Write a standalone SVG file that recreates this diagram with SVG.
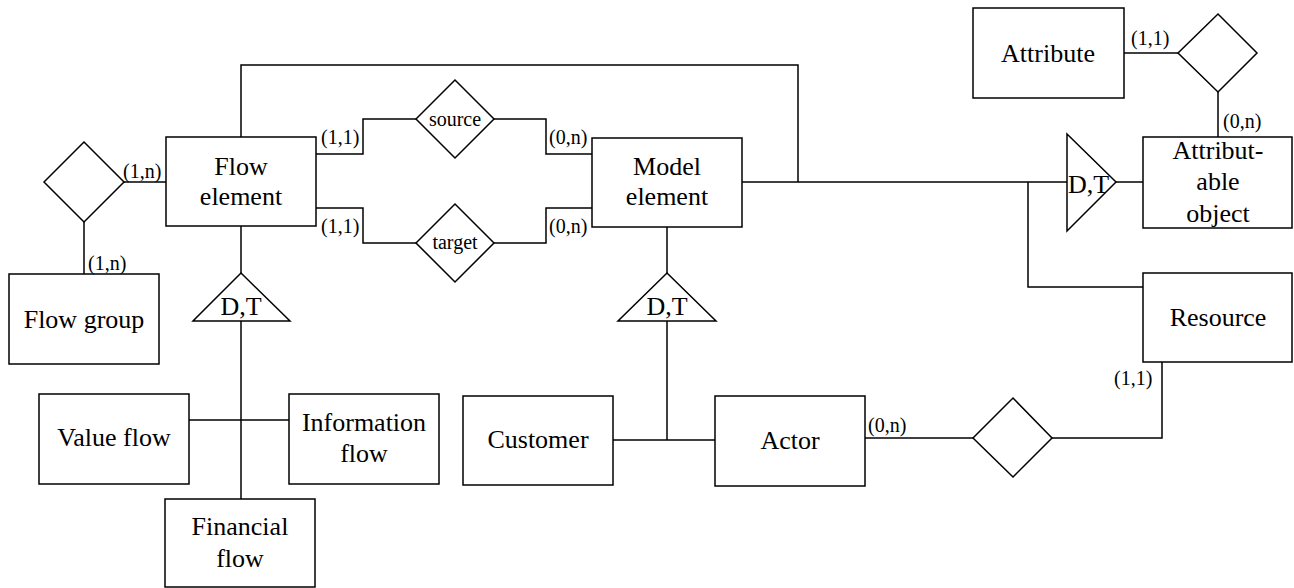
<svg xmlns="http://www.w3.org/2000/svg" width="1294" height="588" viewBox="0 0 1294 588">
<style>
.b{fill:#fff;stroke:#000;stroke-width:1.5}
.c{fill:none;stroke:#000;stroke-width:1.5}
.t{font-family:"Liberation Serif","Times New Roman",serif;font-size:26px;fill:#000;text-anchor:middle}
.l{font-family:"Liberation Serif","Times New Roman",serif;font-size:20px;fill:#000}
.s{font-family:"Liberation Serif","Times New Roman",serif;font-size:20px;fill:#000;text-anchor:middle}
</style>
<rect width="1294" height="588" fill="#fff"/>
<g id="connectors">
<polyline class="c" points="241,137 241,65 798,65 798,182"/>
<line class="c" x1="742" y1="182" x2="1067" y2="182"/>
<polyline class="c" points="1028,182 1028,287 1143,287"/>
<line class="c" x1="1116" y1="182" x2="1143" y2="182"/>
<line class="c" x1="1124" y1="53" x2="1178" y2="53"/>
<line class="c" x1="1218" y1="92" x2="1218" y2="137"/>
<line class="c" x1="124" y1="182" x2="166" y2="182"/>
<line class="c" x1="84" y1="222" x2="84" y2="274"/>
<polyline class="c" points="316,154 363,154 363,119 416,119"/>
<polyline class="c" points="494,119 546,119 546,154 592,154"/>
<polyline class="c" points="316,208 363,208 363,243 416,243"/>
<polyline class="c" points="494,243 546,243 546,208 592,208"/>
<line class="c" x1="241" y1="226" x2="241" y2="273"/>
<line class="c" x1="241" y1="321" x2="241" y2="499"/>
<line class="c" x1="189" y1="420" x2="289" y2="420"/>
<line class="c" x1="667" y1="227" x2="667" y2="273"/>
<line class="c" x1="667" y1="321" x2="667" y2="440"/>
<line class="c" x1="613" y1="440" x2="715" y2="440"/>
<line class="c" x1="865" y1="438" x2="973" y2="438"/>
<polyline class="c" points="1052,438 1162,438 1162,362"/>
</g>
<g id="flow-element">
<rect class="b" x="166" y="137" width="150" height="89"/>
<text class="t" x="241" y="175">Flow</text>
<text class="t" x="241" y="205">element</text>
</g>
<g id="model-element">
<rect class="b" x="592" y="138" width="150" height="89"/>
<text class="t" x="667" y="175">Model</text>
<text class="t" x="667" y="205">element</text>
</g>
<g id="flow-group">
<rect class="b" x="9" y="274" width="150" height="90"/>
<text class="t" x="84" y="328">Flow group</text>
</g>
<g id="attribute">
<rect class="b" x="973" y="8" width="151" height="90"/>
<text class="t" x="1048" y="62">Attribute</text>
</g>
<g id="attributable-object">
<rect class="b" x="1143" y="137" width="149" height="91"/>
<text class="t" x="1218" y="159">Attribut-</text>
<text class="t" x="1218" y="190">able</text>
<text class="t" x="1218" y="222">object</text>
</g>
<g id="resource">
<rect class="b" x="1143" y="273" width="149" height="89"/>
<text class="t" x="1218" y="326">Resource</text>
</g>
<g id="value-flow">
<rect class="b" x="39" y="394" width="150" height="90"/>
<text class="t" x="114" y="446">Value flow</text>
</g>
<g id="information-flow">
<rect class="b" x="289" y="394" width="150" height="90"/>
<text class="t" x="364" y="431">Information</text>
<text class="t" x="364" y="462">flow</text>
</g>
<g id="financial-flow">
<rect class="b" x="165" y="499" width="150" height="88"/>
<text class="t" x="240" y="535">Financial</text>
<text class="t" x="240" y="567">flow</text>
</g>
<g id="customer">
<rect class="b" x="463" y="396" width="150" height="89"/>
<text class="t" x="538" y="448">Customer</text>
</g>
<g id="actor">
<rect class="b" x="715" y="396" width="150" height="90"/>
<text class="t" x="790" y="449">Actor</text>
</g>
<g id="rel-flowgroup">
<polygon class="b" points="44,182 84,142 124,182 84,222"/>
</g>
<g id="rel-source">
<polygon class="b" points="416,119 455,80 494,119 455,158"/>
<text class="s" x="455" y="126">source</text>
</g>
<g id="rel-target">
<polygon class="b" points="416,243 455,204 494,243 455,282"/>
<text class="s" x="455" y="249">target</text>
</g>
<g id="rel-attribute">
<polygon class="b" points="1178,53 1218,14 1257,53 1218,92"/>
</g>
<g id="rel-resource">
<polygon class="b" points="973,438 1013,398 1052,438 1013,477"/>
</g>
<g id="isa-flow">
<polygon class="b" points="241,273 290,321 193,321"/>
<text class="t" x="241" y="315">D,T</text>
</g>
<g id="isa-model">
<polygon class="b" points="667,273 716,321 618,321"/>
<text class="t" x="667" y="315">D,T</text>
</g>
<g id="isa-attributable">
<polygon class="b" points="1067,134 1116,182 1067,231"/>
<text class="t" x="1068" y="193" style="text-anchor:start">D,T</text>
</g>
<g id="labels">
<text class="l" x="123" y="178">(1,n)</text>
<text class="l" x="88" y="270">(1,n)</text>
<text class="l" x="321" y="144">(1,1)</text>
<text class="l" x="549" y="144">(0,n)</text>
<text class="l" x="321" y="233">(1,1)</text>
<text class="l" x="549" y="233">(0,n)</text>
<text class="l" x="1131" y="45">(1,1)</text>
<text class="l" x="1223" y="128">(0,n)</text>
<text class="l" x="1114" y="385">(1,1)</text>
<text class="l" x="868" y="432">(0,n)</text>
</g>
</svg>
